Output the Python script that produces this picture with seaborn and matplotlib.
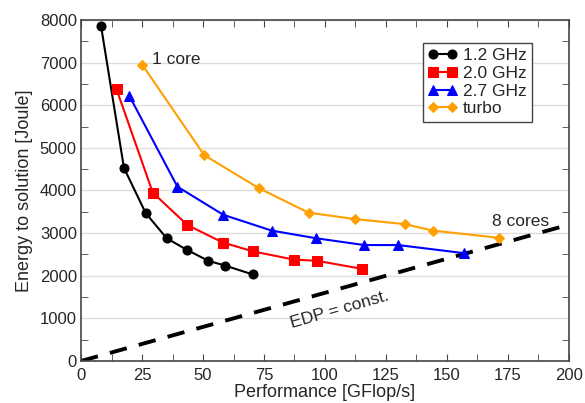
import matplotlib
matplotlib.use("Agg")
import matplotlib.pyplot as plt
from matplotlib.ticker import MultipleLocator
import seaborn as sns

# performance [GFlop/s] and energy to solution [J]
perf_12 = [8.2, 17.6, 26.5, 35.1, 43.3, 52.2, 59.0, 70.4]
energy_12 = [7860, 4530, 3470, 2880, 2610, 2350, 2240, 2030]

perf_20 = [14.6, 29.4, 43.6, 58.1, 70.6, 87.2, 96.9, 115.3]
energy_20 = [6370, 3950, 3190, 2780, 2570, 2380, 2350, 2160]

perf_27 = [19.8, 39.5, 58.3, 78.1, 96.3, 116.1, 130.0, 157.0]
energy_27 = [6220, 4090, 3430, 3060, 2880, 2720, 2720, 2530]

perf_turbo = [25.1, 50.5, 73.0, 93.3, 112.3, 132.8, 144.1, 171.3]
energy_turbo = [6950, 4830, 4050, 3480, 3330, 3210, 3060, 2890]

edp_perf = [0, 200]
edp_energy = [0, 3200]

series = [
    ("1.2 GHz", perf_12, energy_12, "black", "o"),
    ("2.0 GHz", perf_20, energy_20, "#ff0000", "s"),
    ("2.7 GHz", perf_27, energy_27, "#0000ff", "^"),
    ("turbo", perf_turbo, energy_turbo, "#ffa000", "D"),
]

sns.set_style("ticks")
plt.rcParams["font.family"] = ["Liberation Sans", "DejaVu Sans"]
plt.rcParams["font.size"] = 12

fig = plt.figure(figsize=(5.85, 4.03), dpi=100)
ax = fig.add_axes([0.1385, 0.1042, 0.8341, 0.8462])

# EDP = const. reference line
sns.lineplot(x=edp_perf, y=edp_energy, ax=ax, color="black", linewidth=2.8,
             linestyle=(0, (4.5, 3.2)), zorder=1)

for label, xs, ys, col, mk in series:
    ms = 6.5 if mk != "D" else 5.5
    if mk == "^":
        ms = 7
    sns.lineplot(x=xs, y=ys, ax=ax, color=col, marker=mk, markersize=ms,
                 mec=col, mfc=col, linewidth=1.5, label=label, zorder=3)

ax.set_xlim(0, 200)
ax.set_ylim(0, 8000)
ax.xaxis.set_major_locator(MultipleLocator(25))
ax.xaxis.set_minor_locator(MultipleLocator(12.5))
ax.yaxis.set_major_locator(MultipleLocator(1000))
ax.yaxis.set_minor_locator(MultipleLocator(500))
ax.tick_params(which="both", direction="in", top=True, right=True,
               labelsize=12, color="#444444")
ax.tick_params(which="major", length=0)
ax.tick_params(which="minor", length=5)
ax.xaxis.set_tick_params(which="major", length=5, pad=5)
ax.yaxis.set_tick_params(which="major", pad=3)
ax.grid(axis="y", color="#dddddd", linewidth=1)
ax.set_axisbelow(True)
for sp in ax.spines.values():
    sp.set_color("#444444")
    sp.set_linewidth(1.2)

ax.set_xlabel("Performance [GFlop/s]", fontsize=13, labelpad=1)
ax.set_ylabel("Energy to solution [Joule]", fontsize=13, labelpad=5)

ax.text(29, 7070, "1 core", fontsize=12.5, va="center", ha="left")
ax.text(168.5, 3270, "8 cores", fontsize=12.5, va="center", ha="left")
ax.text(106, 1200, "EDP = const.", fontsize=12.5, va="center", ha="center",
        rotation=16)

leg = ax.legend(loc="upper right", bbox_to_anchor=(0.924, 0.933),
                numpoints=2, handlelength=1.7, handletextpad=0.3,
                labelspacing=0.15, borderpad=0.3, borderaxespad=0,
                fancybox=False, framealpha=1, fontsize=12.5)
leg.get_frame().set_edgecolor("#444444")
leg.get_frame().set_linewidth(1.0)

fig.savefig("out.png", dpi=100)
